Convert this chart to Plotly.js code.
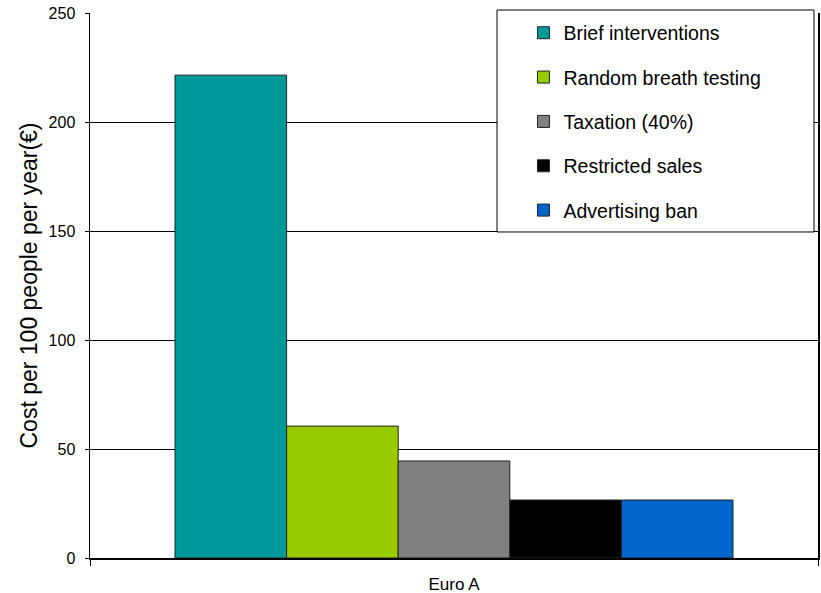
<!DOCTYPE html>
<html>
<head>
<meta charset="utf-8">
<script src="https://cdn.plot.ly/plotly-3.0.1.min.js"></script>
<style>html,body{margin:0;padding:0;background:#fff;}#chart{width:821px;height:593px;}</style>
</head>
<body>
<div id="chart"></div>
<script>
const categories = ["Euro A"];
const seriesNames = ["Brief interventions", "Random breath testing", "Taxation (40%)", "Restricted sales", "Advertising ban"];
const briefInterventions = [221.5];
const randomBreathTesting = [60.5];
const taxation40 = [44.5];
const restrictedSales = [26.6];
const advertisingBan = [26.6];
const seriesColors = ["#009999", "#99CC00", "#808080", "#000000", "#0066CC"];
const yTickValues = [0, 50, 100, 150, 200, 250];

const seriesValues = [briefInterventions, randomBreathTesting, taxation40, restrictedSales, advertisingBan];
const traces = seriesNames.map((name, i) => ({
  type: "bar",
  name: name,
  x: categories,
  y: seriesValues[i],
  legendgroup: "g" + i,
  marker: {color: seriesColors[i], line: {color: "#222222", width: 1}},
  hoverinfo: "name+y"
}));

const layout = {
  width: 821, height: 593,
  margin: {l: 90, r: 3, t: 13, b: 35},
  paper_bgcolor: "#ffffff",
  plot_bgcolor: "#ffffff",
  font: {family: "Arial, 'Liberation Sans', sans-serif", color: "#000000"},
  barmode: "group",
  bargap: 0.2335,
  bargroupgap: 0,
  showlegend: true,
  legend: {
    x: 0.5954, y: 0.999, xanchor: "left", yanchor: "top",
    bgcolor: "rgba(0,0,0,0)", borderwidth: 0,
    traceorder: "grouped", tracegroupgap: 16,
    font: {size: 19.5, color: "#000000"}
  },
  xaxis: {
    type: "category",
    range: [-0.5, 0.5],
    showline: true, linecolor: "#000000", linewidth: 1.5,
    ticks: "outside", tickson: "boundaries", ticklen: 6, tickcolor: "#000000",
    ticklabelstandoff: 10,
    tickfont: {size: 17},
    showgrid: false, zeroline: false, fixedrange: true
  },
  yaxis: {
    range: [0, 250],
    tickvals: yTickValues,
    showline: true, mirror: true, linecolor: "#000000", linewidth: 1.5,
    ticks: "outside", ticklen: 4, tickcolor: "#000000",
    ticklabelstandoff: 6,
    tickfont: {size: 16},
    showgrid: true, gridcolor: "#000000", gridwidth: 1,
    zeroline: false,
    title: {text: "Cost per 100 people per year(€)", font: {size: 23}, standoff: 4},
    fixedrange: true
  },
  shapes: [{
    type: "rect", xref: "paper", yref: "paper",
    x0: 0.5591, x1: 0.9945, y0: 0.5982, y1: 1.0055,
    fillcolor: "#ffffff", line: {color: "#000000", width: 1}, layer: "above"
  }]
};

Plotly.newPlot("chart", traces, layout, {displayModeBar: false, staticPlot: true});
</script>
</body>
</html>
